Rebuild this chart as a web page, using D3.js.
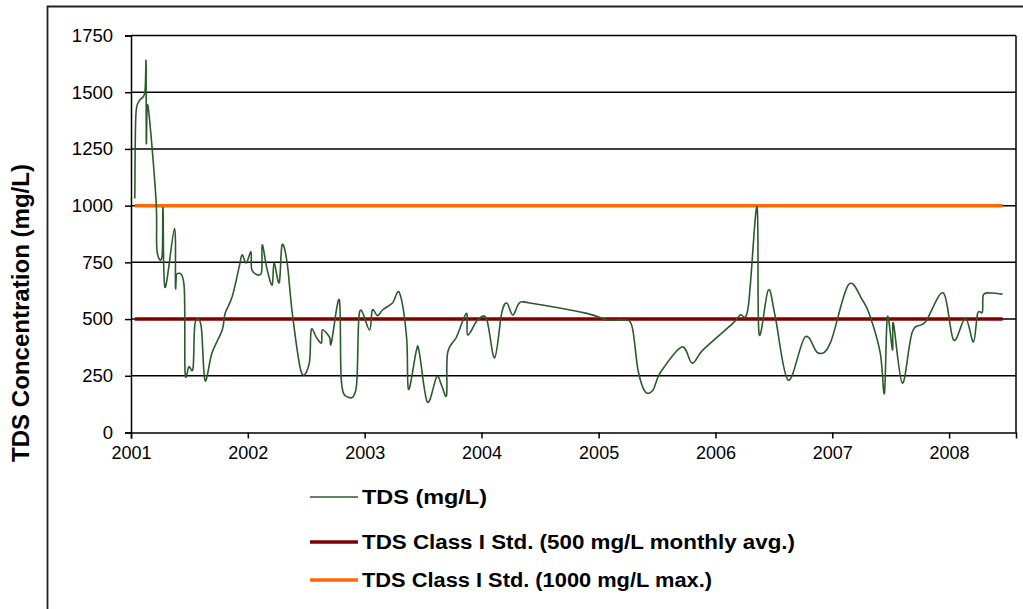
<!DOCTYPE html>
<html><head><meta charset="utf-8">
<script src="https://cdn.jsdelivr.net/npm/d3@7"></script>
<style>
body{margin:0;background:#fff}
svg{display:block}
text{font-family:Arial,"Liberation Sans",sans-serif;fill:#000}
</style>
</head><body>
<svg id="chart" width="1023" height="609"></svg>
<script>
// ---- data ----
const sampleDates = [
"2001-01-13","2001-01-16","2001-01-26","2001-02-13","2001-02-17","2001-02-18","2001-02-23","2001-03-20","2001-03-23","2001-04-08",
"2001-04-11","2001-04-17","2001-05-17","2001-05-20","2001-05-25","2001-06-16","2001-06-19","2001-07-01","2001-07-14","2001-07-20",
"2001-08-08","2001-08-20","2001-09-11","2001-10-13","2001-10-22","2001-11-13","2001-12-05","2001-12-14","2001-12-27","2002-01-11",
"2002-01-14","2002-02-12","2002-02-15","2002-03-02","2002-03-18","2002-03-24","2002-04-09","2002-04-18","2002-05-04","2002-05-20",
"2002-06-17","2002-07-12","2002-07-18","2002-08-03","2002-08-19","2002-08-22","2002-09-13","2002-09-19","2002-10-14","2002-10-20",
"2002-11-08","2002-12-06","2002-12-16","2003-01-16","2003-01-25","2003-02-10","2003-02-26","2003-03-29","2003-04-20","2003-05-12",
"2003-05-18","2003-06-12","2003-06-21","2003-07-16","2003-08-14","2003-08-29","2003-09-14","2003-09-17","2003-10-15","2003-11-15",
"2003-11-19","2003-12-20","2004-01-17","2004-02-11","2004-03-04","2004-03-20","2004-04-08","2004-04-29","2004-05-31","2004-11-25",
"2005-01-27","2005-03-18","2005-04-15","2005-05-04","2005-05-26","2005-06-20","2005-07-12","2005-09-18","2005-10-20","2005-11-23",
"2006-02-25","2006-03-19","2006-04-13","2006-05-11","2006-05-17","2006-06-15","2006-07-07","2006-08-16","2006-10-08","2006-11-18",
"2006-12-26","2007-02-20","2007-04-05","2007-04-30","2007-05-31","2007-06-13","2007-06-22","2007-07-08","2007-07-11","2007-08-08",
"2007-09-08","2007-10-19","2007-12-14","2008-01-15","2008-02-21","2008-03-17","2008-03-30","2008-04-14","2008-04-17","2008-05-09",
"2008-06-16"
];
const tdsValues = [
1032,1392,1460,1496,1635,1276,1440,1030,805,775,
990,640,900,640,700,645,265,290,285,480,
470,230,350,452,525,598,730,783,747,796,
716,702,827,720,650,747,660,827,747,525,
266,306,452,420,395,452,421,395,584,231,
157,201,531,452,540,515,540,571,615,420,
190,364,350,134,245,209,165,350,421,525,
430,496,500,329,525,571,518,571,571,525,
496,496,470,276,181,187,262,377,306,364,
482,518,549,995,438,628,509,231,421,350,
395,650,584,509,350,174,509,364,482,218,
443,487,615,408,505,399,525,531,606,615,
610
];
const stdMonthlyAvg = 500;
const stdMax = 1000;
const yTickValues = [0,250,500,750,1000,1250,1500,1750];
const xTickLabels = ["2001","2002","2003","2004","2005","2006","2007","2008"];
const xAxisStart = "2001-01-01";
const xAxisEnd = "2008-07-28";
const yAxisTitle = "TDS Concentration (mg/L)";
const legendLabels = ["TDS (mg/L)","TDS Class I Std. (500 mg/L monthly avg.)","TDS Class I Std. (1000 mg/L max.)"];
const seriesColors = ["#2c5a2c","#800000","#ff6a00"];

// ---- drawing ----
const parse = d3.timeParse("%Y-%m-%d");
const svg = d3.select("#chart");
const L = 131, R = 1016, T = 35.5, B = 432.5;

const x = d3.scaleTime().domain([parse(xAxisStart), parse(xAxisEnd)]).range([L, R]);
const y = d3.scaleLinear().domain([0, 1750]).range([B, T]);

// outer chart border
svg.append("path").attr("d","M47.5,609 L47.5,6.5 L1023,6.5")
  .attr("fill","none").attr("stroke","#222").attr("stroke-width",1.8);

// gridlines
svg.append("g").selectAll("line").data(yTickValues.filter(v=>v>0)).join("line")
  .attr("x1",L).attr("x2",R).attr("y1",d=>y(d)).attr("y2",d=>y(d))
  .attr("stroke","#000").attr("stroke-width",1.5);
// right border
svg.append("line").attr("x1",R).attr("x2",R).attr("y1",T).attr("y2",B)
  .attr("stroke","#000").attr("stroke-width",1.5);

// y axis
const yAxis = svg.append("g").attr("transform",`translate(${L},0)`)
  .call(d3.axisLeft(y).tickValues(yTickValues).tickSize(6).tickPadding(12).tickFormat(d3.format("d")));
yAxis.select(".domain").attr("stroke","#000").attr("stroke-width",1.5);
yAxis.selectAll(".tick line").attr("stroke","#000").attr("stroke-width",1.5);
yAxis.selectAll(".tick text").attr("font-size",18.5).attr("font-family","Arial, 'Liberation Sans', sans-serif").attr("fill","#000");

// x axis
const xTickDates = xTickLabels.map(s => parse(s + "-01-01"));
const xAxis = svg.append("g").attr("transform",`translate(0,${B})`)
  .call(d3.axisBottom(x).tickValues(xTickDates).tickSize(6).tickPadding(8).tickFormat((d,i)=>xTickLabels[i]));
xAxis.select(".domain").attr("stroke","#000").attr("stroke-width",1.5);
xAxis.selectAll(".tick line").attr("stroke","#000").attr("stroke-width",1.5);
xAxis.selectAll(".tick text").attr("font-size",18).attr("font-family","Arial, 'Liberation Sans', sans-serif").attr("fill","#000");

// standard lines
const firstDate = parse(sampleDates[0]), lastDate = parse(sampleDates[sampleDates.length-1]);
svg.append("line").attr("x1",x(firstDate)).attr("x2",x(lastDate))
  .attr("y1",y(stdMax)).attr("y2",y(stdMax)).attr("stroke",seriesColors[2]).attr("stroke-width",3.5);
svg.append("line").attr("x1",x(firstDate)).attr("x2",x(lastDate))
  .attr("y1",y(stdMonthlyAvg)).attr("y2",y(stdMonthlyAvg)).attr("stroke",seriesColors[1]).attr("stroke-width",3.5);

// TDS series
const pts = sampleDates.map((d,i)=>({d:parse(d), v:tdsValues[i]}));
const line = d3.line().x(p=>x(p.d)).y(p=>y(p.v)).curve(d3.curveCardinal.tension(0));
svg.append("path").datum(pts).attr("d",line)
  .attr("fill","none").attr("stroke",seriesColors[0]).attr("stroke-width",1.6).attr("stroke-linejoin","round");

// y axis title
svg.append("text").attr("transform","translate(29,313) rotate(-90)")
  .attr("text-anchor","middle").attr("font-size",23).attr("font-weight","bold")
  .attr("textLength",298).attr("lengthAdjust","spacingAndGlyphs").text(yAxisTitle);

// legend
const legY = [497, 542, 580];
const legW = [125, 433, 350];
const leg = svg.append("g");
legendLabels.forEach((lab,i)=>{
  leg.append("line").attr("x1",310).attr("x2",358).attr("y1",legY[i]).attr("y2",legY[i])
    .attr("stroke",seriesColors[i]).attr("stroke-width",i===0?1.6:3.5);
  leg.append("text").attr("x",362).attr("y",legY[i]).attr("dy","0.35em")
    .attr("font-size",19.5).attr("font-weight","bold")
    .attr("textLength",legW[i]).attr("lengthAdjust","spacingAndGlyphs").text(lab);
});
</script>
</body></html>
